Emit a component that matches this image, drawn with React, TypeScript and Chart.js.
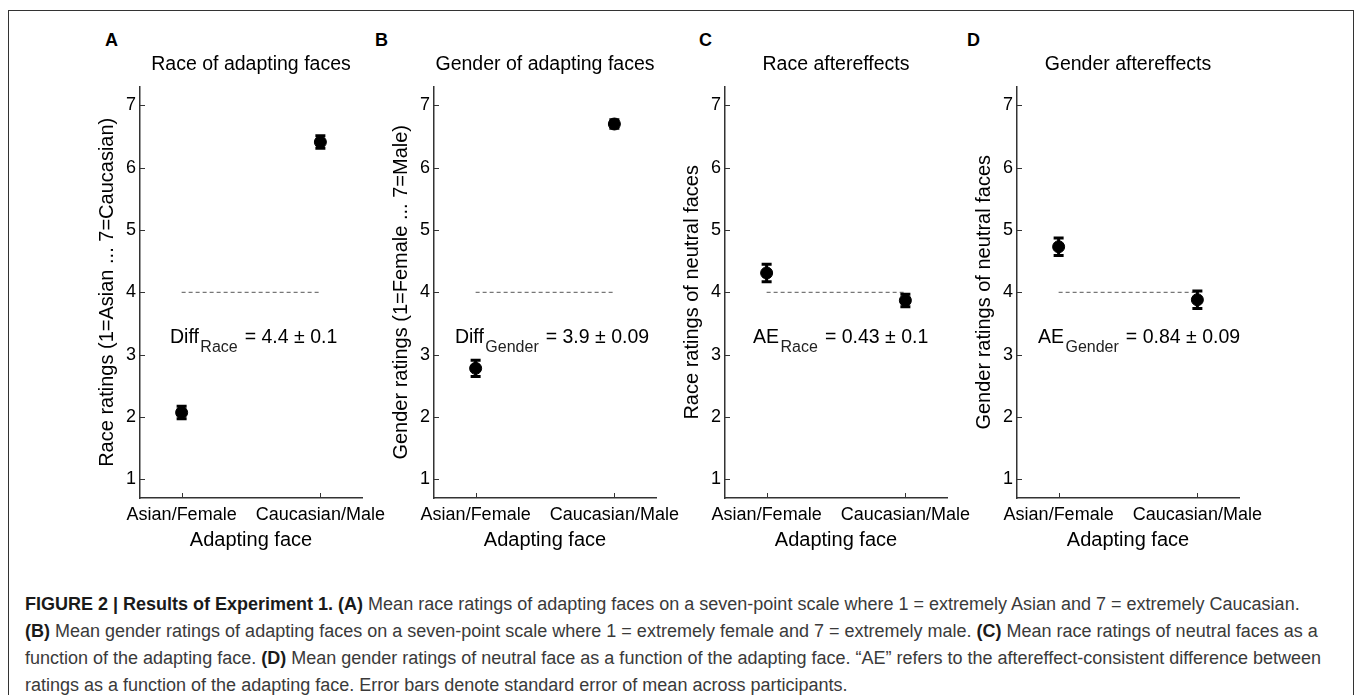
import React, { useEffect, useRef } from "react";
import { Chart, registerables } from "chart.js";

Chart.register(...registerables);

// ---------- data ----------
const categories = ["Asian/Female", "Caucasian/Male"];
const categoryPositions = [1, 2];
const yTickValues = [1, 2, 3, 4, 5, 6, 7];
const panelLetters = ["A", "B", "C", "D"];
const panelTitles = [
  "Race of adapting faces",
  "Gender of adapting faces",
  "Race aftereffects",
  "Gender aftereffects",
];
const yAxisTitles = [
  "Race ratings (1=Asian ... 7=Caucasian)",
  "Gender ratings (1=Female ... 7=Male)",
  "Race ratings of neutral faces",
  "Gender ratings of neutral faces",
];
const xAxisTitle = "Adapting face";

const raceAdaptMeans = [2.07, 6.41];
const raceAdaptSem = [0.1, 0.1];
const genderAdaptMeans = [2.78, 6.7];
const genderAdaptSem = [0.13, 0.07];
const raceAEMeans = [4.31, 3.87];
const raceAESem = [0.14, 0.1];
const genderAEMeans = [4.73, 3.88];
const genderAESem = [0.14, 0.14];

const neutralLevel = 4;

const statMain = ["Diff", "Diff", "AE", "AE"];
const statSub = ["Race", "Gender", "Race", "Gender"];
const statValue = ["= 4.4 ± 0.1", "= 3.9 ± 0.09", "= 0.43 ± 0.1", "= 0.84 ± 0.09"];

const captionLines: { t: string; b?: boolean }[][] = [
  [
    { t: "FIGURE 2 | Results of Experiment 1. (A)", b: true },
    { t: " Mean race ratings of adapting faces on a seven-point scale where 1 = extremely Asian and 7 = extremely Caucasian." },
  ],
  [
    { t: "(B)", b: true },
    { t: " Mean gender ratings of adapting faces on a seven-point scale where 1 = extremely female and 7 = extremely male. " },
    { t: "(C)", b: true },
    { t: " Mean race ratings of neutral faces as a" },
  ],
  [
    { t: "function of the adapting face. " },
    { t: "(D)", b: true },
    { t: " Mean gender ratings of neutral face as a function of the adapting face. \u201CAE\u201D refers to the aftereffect-consistent difference between" },
  ],
  [
    { t: "ratings as a function of the adapting face. Error bars denote standard error of mean across participants." },
  ],
];

const panelMeans = [raceAdaptMeans, genderAdaptMeans, raceAEMeans, genderAEMeans];
const panelSems = [raceAdaptSem, genderAdaptSem, raceAESem, genderAESem];

// ---------- layout / style ----------
const FONT = "'Liberation Sans', Arial, Helvetica, sans-serif";
const AXIS_LEFTS = [140, 434, 725, 1017];
const AXIS_W = 222;
const Y_AXIS_BOX = 60;
const CANVAS_TOP = 30;
const CANVAS_W = Y_AXIS_BOX + AXIS_W + 50;
const CANVAS_H = 530;
const AXIS_COLOR = "#333";
const LETTER_LEFTS = [105, 375, 699, 967];
const STAT_X = [0.916, 0.851, 0.902, 0.851];
const STAT_Y = 3.19;

function Panel({ idx }: { idx: number }) {
  const ref = useRef<HTMLCanvasElement | null>(null);
  const axisLeft = AXIS_LEFTS[idx];

  useEffect(() => {
    const means = panelMeans[idx];
    const sems = panelSems[idx];

    const errorBars = {
      id: "errorBars",
      afterDatasetsDraw(chart: any) {
        const { ctx, scales } = chart;
        const xs = scales.x;
        const ys = scales.y;
        ctx.save();
        ctx.strokeStyle = "#000";
        ctx.lineWidth = 3;
        categoryPositions.forEach((xv, i) => {
          const px = xs.getPixelForValue(xv);
          const y1 = ys.getPixelForValue(means[i] - sems[i]);
          const y2 = ys.getPixelForValue(means[i] + sems[i]);
          ctx.beginPath();
          ctx.moveTo(px, y1);
          ctx.lineTo(px, y2);
          ctx.moveTo(px - 5, y1);
          ctx.lineTo(px + 5, y1);
          ctx.moveTo(px - 5, y2);
          ctx.lineTo(px + 5, y2);
          ctx.stroke();
        });
        ctx.restore();
      },
    };

    const tickMarks = {
      id: "tickMarks",
      afterDraw(chart: any) {
        const { ctx, scales, chartArea } = chart;
        ctx.save();
        ctx.strokeStyle = AXIS_COLOR;
        ctx.lineWidth = 1;
        ctx.beginPath();
        yTickValues.forEach((v) => {
          const py = Math.round(scales.y.getPixelForValue(v)) + 0.5;
          ctx.moveTo(chartArea.left, py);
          ctx.lineTo(chartArea.left + 5, py);
        });
        categoryPositions.forEach((v) => {
          const px = Math.round(scales.x.getPixelForValue(v)) + 0.5;
          ctx.moveTo(px, chartArea.bottom);
          ctx.lineTo(px, chartArea.bottom - 5);
        });
        ctx.stroke();
        ctx.restore();
      },
    };

    const statText = {
      id: "statText",
      afterDraw(chart: any) {
        const { ctx, scales } = chart;
        let px = scales.x.getPixelForValue(STAT_X[idx]);
        const py = scales.y.getPixelForValue(STAT_Y);
        ctx.save();
        ctx.textAlign = "left";
        ctx.textBaseline = "alphabetic";
        ctx.fillStyle = "#000";
        ctx.font = `19.5px ${FONT}`;
        ctx.fillText(statMain[idx], px, py);
        px += ctx.measureText(statMain[idx]).width + 1.5;
        ctx.font = `16px ${FONT}`;
        ctx.fillStyle = "#222";
        ctx.fillText(statSub[idx], px, py + 9);
        px += ctx.measureText(statSub[idx]).width + 7;
        ctx.font = `19.5px ${FONT}`;
        ctx.fillStyle = "#000";
        ctx.fillText(statValue[idx], px, py);
        ctx.restore();
      },
    };

    const chart = new Chart(ref.current as HTMLCanvasElement, {
      type: "scatter",
      data: {
        datasets: [
          {
            type: "scatter",
            data: categoryPositions.map((x, i) => ({ x, y: means[i] })),
            pointRadius: 6,
            pointBorderWidth: 1,
            backgroundColor: "#000",
            borderColor: "#000",
            order: 0,
          },
          {
            type: "line",
            data: categoryPositions.map((x) => ({ x, y: neutralLevel })),
            borderColor: "#555",
            borderWidth: 1,
            borderDash: [4, 3],
            pointRadius: 0,
            fill: false,
            order: 1,
          },
        ],
      } as any,
      options: {
        responsive: false,
        animation: false,
        devicePixelRatio: 1,
        events: [],
        font: { family: FONT },
        layout: { padding: { left: 0, right: 50, top: 23.2, bottom: 2 } },
        plugins: {
          legend: { display: false },
          tooltip: { enabled: false },
          title: {
            display: true,
            text: panelTitles[idx],
            color: "#000",
            fullSize: false,
            font: { size: 19.5, weight: "normal", family: FONT },
            padding: { top: 0, bottom: 10 },
          },
        },
        scales: {
          x: {
            type: "linear",
            position: "bottom",
            min: 0.7,
            max: 2.3,
            grid: { display: false, drawTicks: false },
            border: { display: true, color: AXIS_COLOR, width: 1.5 },
            ticks: {
              padding: 6,
              color: "#000",
              font: { size: 18, family: FONT },
              maxRotation: 0,
              autoSkip: false,
              callback: (v: any) => {
                const k = categoryPositions.indexOf(Number(v));
                return k >= 0 ? categories[k] : "";
              },
            },
            title: {
              display: true,
              text: xAxisTitle,
              color: "#000",
              font: { size: 20, family: FONT },
              padding: { top: 0, bottom: 6 },
            },
            afterBuildTicks: (s: any) => {
              s.ticks = categoryPositions.map((v) => ({ value: v }));
            },
            afterFit: (s: any) => {
              s.height = 60;
            },
          },
          y: {
            type: "linear",
            position: "left",
            min: 0.7,
            max: 7.3,
            grid: { display: false, drawTicks: false },
            border: { display: true, color: AXIS_COLOR, width: 1.5 },
            ticks: {
              padding: 4,
              color: "#000",
              font: { size: 18, family: FONT },
              autoSkip: false,
              callback: (v: any) => String(v),
            },
            title: {
              display: true,
              text: yAxisTitles[idx],
              color: "#000",
              font: { size: 20, family: FONT },
              padding: { top: 15, bottom: 0 },
            },
            afterBuildTicks: (s: any) => {
              s.ticks = yTickValues.map((v) => ({ value: v }));
            },
            afterFit: (s: any) => {
              s.width = Y_AXIS_BOX;
            },
          },
        },
      } as any,
      plugins: [errorBars, tickMarks, statText],
    });
    return () => chart.destroy();
  }, [idx]);

  return (
    <canvas
      ref={ref}
      width={CANVAS_W}
      height={CANVAS_H}
      style={{
        position: "absolute",
        left: axisLeft - Y_AXIS_BOX,
        top: CANVAS_TOP,
        width: CANVAS_W,
        height: CANVAS_H,
      }}
    />
  );
}

export default function App() {
  return (
    <div
      style={{
        position: "fixed",
        left: 0,
        top: 0,
        width: 1357,
        height: 695,
        overflow: "hidden",
        background: "#fff",
        fontFamily: FONT,
      }}
    >
      <div
        style={{
          position: "absolute",
          left: 8,
          top: 10,
          width: 1346,
          height: 900,
          border: "1px solid #333",
          boxSizing: "border-box",
        }}
      />
      {panelLetters.map((l, i) => (
        <div
          key={l}
          style={{
            position: "absolute",
            left: LETTER_LEFTS[i],
            top: 29.7,
            fontSize: 18,
            lineHeight: "20px",
            fontWeight: "bold",
            color: "#000",
          }}
        >
          {l}
        </div>
      ))}
      {[0, 1, 2, 3].map((i) => (
        <Panel key={i} idx={i} />
      ))}
      <div
        style={{
          position: "absolute",
          left: 25,
          top: 591.2,
          fontSize: 18,
          lineHeight: "27px",
          color: "#3a3a3a",
          whiteSpace: "pre",
        }}
      >
        {captionLines.map((line, li) => (
          <div key={li}>
            {line.map((seg, si) =>
              seg.b ? (
                <span key={si} style={{ fontWeight: "bold", color: "#1a1a1a" }}>
                  {seg.t}
                </span>
              ) : (
                <span key={si}>{seg.t}</span>
              )
            )}
          </div>
        ))}
      </div>
    </div>
  );
}
